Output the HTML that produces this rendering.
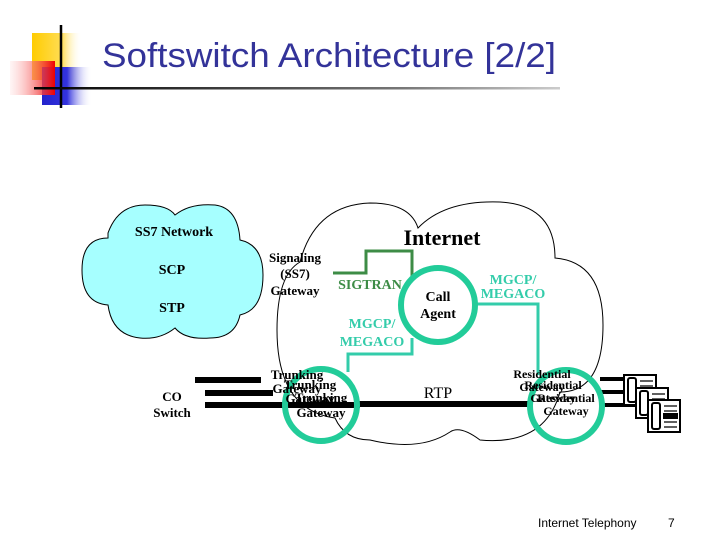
<!DOCTYPE html>
<html><head><style>
body{margin:0;width:720px;height:540px;overflow:hidden;background:#fff}
svg{display:block}
.t{font-family:"Liberation Serif",serif;font-weight:bold;}
</style></head><body>
<svg width="720" height="540" viewBox="0 0 720 540">
<defs>
<linearGradient id="y" x1="0" x2="1"><stop offset="0" stop-color="#ffcc00"/><stop offset="0.6" stop-color="#ffdd55"/><stop offset="1" stop-color="#fff" stop-opacity="0"/></linearGradient>
<linearGradient id="r" x1="1" x2="0"><stop offset="0" stop-color="#ee0000"/><stop offset="1" stop-color="#ffdddd" stop-opacity="0.3"/></linearGradient>
<linearGradient id="b" x1="0" x2="1"><stop offset="0" stop-color="#2222cc"/><stop offset="0.5" stop-color="#3333dd"/><stop offset="1" stop-color="#fff" stop-opacity="0"/></linearGradient>
<linearGradient id="l" x1="0" x2="1"><stop offset="0" stop-color="#000"/><stop offset="0.7" stop-color="#777"/><stop offset="1" stop-color="#ccc"/></linearGradient>
</defs>
<rect x="32" y="33" width="50" height="47" fill="url(#y)"/>
<rect x="42" y="67" width="50" height="38" fill="url(#b)"/>
<rect x="10" y="61" width="45" height="34" fill="url(#r)"/>
<line x1="61" y1="25" x2="61" y2="108" stroke="#000" stroke-width="2.5"/>
<rect x="34" y="87" width="526" height="2.5" fill="url(#l)"/>
<text x="102" y="67" font-family="Liberation Sans,sans-serif" font-size="34" fill="#333399" textLength="454" lengthAdjust="spacingAndGlyphs">Softswitch Architecture [2/2]</text>

<path d="M108,233 Q118,205 145,205 Q168,205 175,215 Q190,203 215,205 Q238,208 240,240 Q263,245 263,275 Q263,310 240,315 Q235,338 210,338 Q185,340 175,328 Q160,340 140,338 Q112,335 108,305 Q82,303 82,270 Q82,238 108,238 Z" fill="#a6ffff" stroke="#000" stroke-width="1"/>
<path d="M300,262 Q315,205 370,203 Q410,203 418,228 Q445,200 500,202 Q555,205 555,258 Q603,262 603,325 Q603,392 560,392 Q545,446 480,440 Q460,425 450,432 Q420,452 370,440 Q345,440 335,418 Q277,410 277,330 Q277,275 300,262 Z" fill="#fff" stroke="#000" stroke-width="1"/>

<g fill="#000">
<rect x="195" y="377" width="66" height="6"/>
<rect x="205" y="390" width="68" height="6"/>
<rect x="205" y="402" width="155" height="6"/>
<rect x="358" y="401" width="172" height="6"/>
<rect x="600" y="377" width="28" height="4"/>
<rect x="600" y="390" width="40" height="4"/>
<rect x="600" y="403" width="52" height="4"/>
</g>
<polyline points="333,273 366,273 366,251 412,251 412,278" fill="none" stroke="#3d8c46" stroke-width="3"/>
<polyline points="348,372 348,354 412,354 412,338" fill="none" stroke="#33ccaa" stroke-width="3"/>
<polyline points="476,304 538,304 538,375" fill="none" stroke="#33ccaa" stroke-width="3"/>
<circle cx="438" cy="305" r="37" fill="#fff" stroke="#22cc99" stroke-width="6"/>
<circle cx="321" cy="405" r="36" fill="none" stroke="#22cc99" stroke-width="6"/>
<circle cx="566" cy="406" r="36" fill="none" stroke="#22cc99" stroke-width="6"/>

<g class="t" font-size="14" fill="#000" text-anchor="middle">
<text x="174" y="236">SS7 Network</text>
<text x="172" y="274">SCP</text>
<text x="172" y="312">STP</text>
<text x="172" y="401" font-size="13">CO</text>
<text x="172" y="417" font-size="13">Switch</text>
<text x="295" y="262" font-size="13">Signaling</text>
<text x="295" y="278" font-size="13">(SS7)</text>
<text x="295" y="295" font-size="13">Gateway</text>
<text x="442" y="245" font-size="22">Internet</text>
<text x="438" y="301" font-size="14">Call</text>
<text x="438" y="318" font-size="14">Agent</text>
<text x="438" y="398" font-size="16" font-weight="normal">RTP</text>
<text x="297" y="379" font-size="13">Trunking</text>
<text x="297" y="393" font-size="13">Gateway</text>
<text x="310" y="389" font-size="13">Trunking</text>
<text x="310" y="403" font-size="13">Gateway</text>
<text x="321" y="402" font-size="13">Trunking</text>
<text x="321" y="417" font-size="13">Gateway</text>
<text x="542" y="378" font-size="12">Residential</text>
<text x="542" y="391" font-size="12">Gateway</text>
<text x="553" y="389" font-size="12">Residential</text>
<text x="553" y="402" font-size="12">Gateway</text>
<text x="566" y="402" font-size="12">Residential</text>
<text x="566" y="415" font-size="12">Gateway</text>
</g>
<g class="t" font-size="14" text-anchor="middle">
<text x="370" y="289" fill="#3d8c46">SIGTRAN</text>
<text x="372" y="328" fill="#33ccaa">MGCP/</text>
<text x="372" y="346" fill="#33ccaa">MEGACO</text>
<text x="513" y="284" fill="#33ccaa">MGCP/</text>
<text x="513" y="298" fill="#33ccaa">MEGACO</text>
</g>

<g stroke="#000" stroke-width="2" fill="#fff">
<g transform="translate(624,375)"><rect width="32" height="30"/><rect x="4" y="3" width="8" height="24" rx="2"/><path d="M16 6h13M16 11h13M16 16h13M16 21h13" stroke-width="1.3"/></g>
<g transform="translate(636,388)"><rect width="32" height="30"/><rect x="4" y="3" width="8" height="24" rx="2"/><path d="M16 6h13M16 11h13M16 16h13M16 21h13" stroke-width="1.3"/></g>
<g transform="translate(648,400)"><rect width="32" height="32"/><rect x="4" y="3" width="8" height="26" rx="2"/><path d="M16 6h13M16 11h13M16 22h13M16 27h13" stroke-width="1.3"/><rect x="16" y="14" width="13" height="4" fill="#000"/></g>
</g>

<text x="538" y="527" font-family="Liberation Sans,sans-serif" font-size="12" fill="#000">Internet Telephony</text>
<text x="668" y="527" font-family="Liberation Sans,sans-serif" font-size="12" fill="#000">7</text>
</svg>
</body></html>
